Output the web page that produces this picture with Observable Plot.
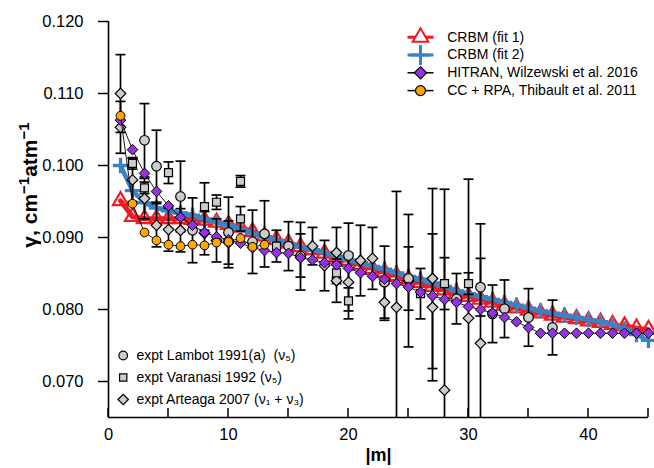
<!DOCTYPE html>
<html><head><meta charset="utf-8">
<script src="https://cdn.jsdelivr.net/npm/d3@7"></script>
<script src="https://cdn.jsdelivr.net/npm/@observablehq/plot@0.6"></script>
<style>
body{margin:0;background:#fff;}
#chart{position:relative;width:654px;height:468px;}
</style></head><body><div id="chart"></div>
<script>
// ---- data ----
const mValues = [1,2,3,4,5,6,7,8,9,10,11,12,13,14,15,16,17,18,19,20,21,22,23,24,25,26,27,28,29,30,31,32,33,34,35,36,37,38,39,40,41,42,43,44,45];
const crbmFit1 = [0.0951,0.0929,0.0926,0.0926,0.0926,0.0926,0.0925,0.0924,0.0921,0.0918,0.0914,0.0908,0.0902,0.0897,0.0892,0.0887,0.0883,0.0878,0.0873,0.0868,0.0862,0.0857,0.0852,0.0847,0.0842,0.0837,0.0832,0.0827,0.0822,0.0818,0.0814,0.0810,0.0806,0.0802,0.0799,0.0795,0.0792,0.0789,0.0787,0.0784,0.0782,0.0779,0.0777,0.0774,0.0772];
const crbmFit2 = [0.1000,0.0965,0.0948,0.0941,0.0937,0.0934,0.0931,0.0926,0.0921,0.0917,0.0912,0.0906,0.0901,0.0896,0.0891,0.0887,0.0883,0.0879,0.0874,0.0869,0.0865,0.0860,0.0856,0.0851,0.0846,0.0842,0.0837,0.0832,0.0826,0.0822,0.0818,0.0814,0.0810,0.0806,0.0802,0.0798,0.0795,0.0792,0.0789,0.0786,0.0783,0.0779,0.0773,0.0765,0.0757];
const hitran = [0.1063,0.1022,0.0989,0.0964,0.0944,0.0928,0.0917,0.0907,0.0901,0.0897,0.0892,0.0886,0.0882,0.0879,0.0878,0.0872,0.0869,0.0865,0.0862,0.0857,0.0851,0.0846,0.0842,0.0836,0.0831,0.0824,0.0819,0.0814,0.0810,0.0804,0.0800,0.0795,0.0789,0.0783,0.0775,0.0767,0.0767,0.0767,0.0767,0.0767,0.0767,0.0767,0.0767,0.0767,0.0767];
const ccRpaM = [1,2,3,4,5,6,7,8,9,10,11,12,13];
const ccRpa = [0.1069,0.0947,0.0907,0.0896,0.0890,0.0888,0.0890,0.0889,0.0893,0.0894,0.0899,0.0887,0.0890];
// experimental: [|m|, gamma, error]
const lambot = [[3,0.1035,0.0051],[4,0.0999,0.0050],[6,0.0957,0.0049],[7,0.0910,0.0045],[10,0.0907,0.0049],[12,0.0894,0.0044],[13,0.0905,0.0046],[15,0.0888,0.0034],[16,0.0874,0.0047],[20,0.0875,0.0045],[23,0.0838,0.0050],[25,0.0843,0.0044],[29,0.0815,0.0035],[31,0.0831,0.0040],[32,0.0794,0.0040],[33,0.0801,0.0040],[35,0.0789,0.0040],[37,0.0775,0.0038]];
const varanasi = [[2,0.1003,0.0008],[3,0.0969,0.0008],[5,0.0990,0.0015],[8,0.0943,0.0033],[9,0.0949,0.0010],[11,0.0978,0.0008],[11,0.0926,0.0017],[14,0.0888,0.0022],[19,0.0851,0.0015],[20,0.0812,0.0025],[26,0.0822,0.0035],[28,0.0836,0.0036],[30,0.0836,0.0015]];
const arteaga = [[1,0.1100,0.0054],[1,0.1053,0.0036],[2,0.0980,0.0030],[3,0.0954,0.0028],[4,0.0917,0.0030],[5,0.0911,0.0030],[6,0.0910,0.0030],[8,0.0906,0.0030],[9,0.0896,0.0030],[10,0.0893,0.0030],[16,0.0875,0.0030],[17,0.0888,0.0026],[18,0.0861,0.0035],[19,0.0879,0.0035],[19,0.0840,0.0030],[20,0.0838,0.0040],[21,0.0868,0.0049],[22,0.0871,0.0043],[23,0.0810,0.0025],[24,0.0803,0.0161],[25,0.0840,0.0092],[27,0.0843,0.0125],[27,0.0803,0.0102],[28,0.0688,0.0279],[30,0.0788,0.0193],[31,0.0753,0.0166]];
const xMajorTicks = [0,10,20,30,40];
const xMinorTicks = [0,5,10,15,20,25,30,35,40,45];
const yTicks = [0.070,0.080,0.090,0.100,0.110,0.120];
const modelLegend = ["CRBM (fit 1)","CRBM (fit 2)","HITRAN, Wilzewski et al. 2016","CC + RPA, Thibault et al. 2011"];
const exptLegend = ["expt Lambot 1991(a)  (ν₅)","expt Varanasi 1992 (ν₅)","expt Arteaga 2007 (ν₁ + ν₃)"];

// ---- styling ----
const RED = "#ec1c24", BLUE = "#3b82c4", PURPLE = "#9431e6", ORANGE = "#ffa500", GRAY = "#cccccc";
const hline = {draw(ctx, size){ const w = Math.sqrt(size/Math.PI); ctx.moveTo(-w,0); ctx.lineTo(w,0); }};
const rows = (vals, ms) => ms.map((m,i) => ({m, v: vals[i]}));
const fit1Rows = rows(crbmFit1, mValues), fit2Rows = rows(crbmFit2, mValues), hitRows = rows(hitran, mValues), ccRows = rows(ccRpa, ccRpaM);
const Y0 = 0.065;
const TICK = 9;

function errMarks(data){
  const o = {stroke:"black", strokeWidth:1.7, clip:true};
  return [
    Plot.ruleX(data, {x: d=>d[0], y1: d=>d[1]-d[2], y2: d=>d[1]+d[2], ...o}),
    Plot.dot(data, {x: d=>d[0], y: d=>d[1]+d[2], symbol: hline, r: 5, ...o}),
    Plot.dot(data, {x: d=>d[0], y: d=>d[1]-d[2], symbol: hline, r: 5, ...o})
  ];
}
const exptStyle = {fill: GRAY, stroke:"black", strokeWidth:1.2};

// legend helpers (pixel offsets within the frame)
const LX = 312, LT = 338.7, LY0 = 15.7, LDY = 17.8;
const lg = (i, opts) => Plot.dot([i], {frameAnchor:"top-left", dx: LX, dy: LY0 + LDY*i, ...opts});
const lt = (i) => Plot.text([modelLegend[i]], {frameAnchor:"top-left", dx: LT, dy: LY0 + LDY*i, text: d=>d, textAnchor:"start", lineAnchor:"middle", fontSize:14});
const EX = 14.7, ET = 28, EY0 = 334, EDY = 22;
const eg = (i, opts) => Plot.dot([i], {frameAnchor:"top-left", dx: EX, dy: EY0 + EDY*i, ...exptStyle, ...opts});
const et = (i) => Plot.text([exptLegend[i]], {frameAnchor:"top-left", dx: ET, dy: EY0 + EDY*i, text: d=>d, textAnchor:"start", lineAnchor:"middle", fontSize:14});

const chart = Plot.plot({
  width: 654, height: 468,
  marginLeft: 108, marginRight: 6, marginTop: 21, marginBottom: 51,
  style: {fontFamily: "'Liberation Sans', Arial, Helvetica, sans-serif", background: "white", color: "black"},
  x: {domain: [0, 45]},
  y: {domain: [Y0, 0.120]},
  marks: [
    Plot.axisY(yTicks, {tickSize: 10, tickPadding: 15, tickFormat: d3.format(".3f"), fontSize: 16.5, strokeWidth: 1.5, label: null}),
    Plot.axisX(xMajorTicks, {tickSize: 0, tickPadding: 11, fontSize: 16.5, label: null}),
    // models
    Plot.line(fit1Rows, {x:"m", y:"v", stroke: RED, strokeWidth: 5}),
    Plot.dot(fit1Rows, {x:"m", y:"v", symbol:"triangle", r: 5.6, stroke: RED, strokeWidth: 2.2, fill: "none"}),
    Plot.line(fit2Rows, {x:"m", y:"v", stroke: BLUE, strokeWidth: 4.5}),
    Plot.dot(fit2Rows, {x:"m", y:"v", symbol:"plus", r: 5, stroke: BLUE, strokeWidth: 3.3}),
    // experiments
    ...errMarks(lambot), ...errMarks(varanasi), ...errMarks(arteaga),
    Plot.dot(arteaga, {x: d=>d[0], y: d=>d[1], symbol:"diamond2", r: 4.8, ...exptStyle, clip:true}),
    Plot.dot(varanasi, {x: d=>d[0], y: d=>d[1], symbol:"square", r: 4.5, ...exptStyle, clip:true}),
    Plot.dot(lambot, {x: d=>d[0], y: d=>d[1], symbol:"circle", r: 4.8, ...exptStyle, clip:true}),
    // HITRAN and CC+RPA
    Plot.line(hitRows, {x:"m", y:"v", stroke:"black", strokeWidth: 0.9}),
    Plot.dot(hitRows, {x:"m", y:"v", symbol:"diamond2", r: 4.8, fill: PURPLE, stroke:"black", strokeWidth: 1}),
    Plot.line(ccRows, {x:"m", y:"v", stroke:"black", strokeWidth: 0.9}),
    Plot.dot(ccRows, {x:"m", y:"v", symbol:"circle", r: 4.4, fill: ORANGE, stroke:"black", strokeWidth: 1}),
    // axis lines
    Plot.ruleX([0], {stroke:"black", strokeWidth: 1.6}),
    Plot.ruleY([Y0], {stroke:"black", strokeWidth: 1.6}),
    // x label
    Plot.text(["|m|"], {frameAnchor:"bottom", dy: 38, text: d=>d, fontSize: 18, fontWeight: "bold", lineAnchor:"middle"}),
    // model legend
    lg(0, {symbol: hline, r: 13, stroke: RED, strokeWidth: 3}),
    lg(0, {symbol: "triangle", r: 5.8, stroke: RED, strokeWidth: 2, fill: "white"}),
    lg(1, {symbol: hline, r: 13, stroke: BLUE, strokeWidth: 3}),
    lg(1, {symbol: "plus", r: 6.5, stroke: BLUE, strokeWidth: 3}),
    lg(2, {symbol: hline, r: 13, stroke: "black", strokeWidth: 1.5}),
    lg(2, {symbol: "diamond2", r: 5.5, fill: PURPLE, stroke: "black", strokeWidth: 1.2}),
    lg(3, {symbol: hline, r: 13, stroke: "black", strokeWidth: 1.5}),
    lg(3, {symbol: "circle", r: 5, fill: ORANGE, stroke: "black", strokeWidth: 1.2}),
    lt(0), lt(1), lt(2), lt(3),
    // experiment legend
    eg(0, {symbol: "circle", r: 4.3}),
    eg(1, {symbol: "square", r: 4.1}),
    eg(2, {symbol: "diamond2", r: 4.7}),
    et(0), et(1), et(2)
  ]
});
document.getElementById("chart").appendChild(chart);

const svg = d3.select(chart);
// inward x ticks, positioned with the chart's own scales
const sx = chart.scale("x"), sy = chart.scale("y");
const yb = sy.apply(Y0);
svg.append("g").attr("stroke", "black").attr("stroke-width", 1.5)
  .selectAll("line").data(xMinorTicks).join("line")
  .attr("x1", d => sx.apply(d)).attr("x2", d => sx.apply(d))
  .attr("y1", yb).attr("y2", yb - TICK);

// y label with superscripts
const yl = svg.append("text")
  .attr("transform", "translate(30,185) rotate(-90)")
  .attr("text-anchor", "middle")
  .attr("dy", "0.35em")
  .attr("font-weight", "bold")
  .attr("font-size", 21)
  .attr("fill", "black");
yl.append("tspan").text("γ, cm");
yl.append("tspan").attr("dy", -8).attr("font-size", 15).text("−1");
yl.append("tspan").attr("dy", 8).text("atm");
yl.append("tspan").attr("dy", -8).attr("font-size", 15).text("−1");
</script></body></html>
